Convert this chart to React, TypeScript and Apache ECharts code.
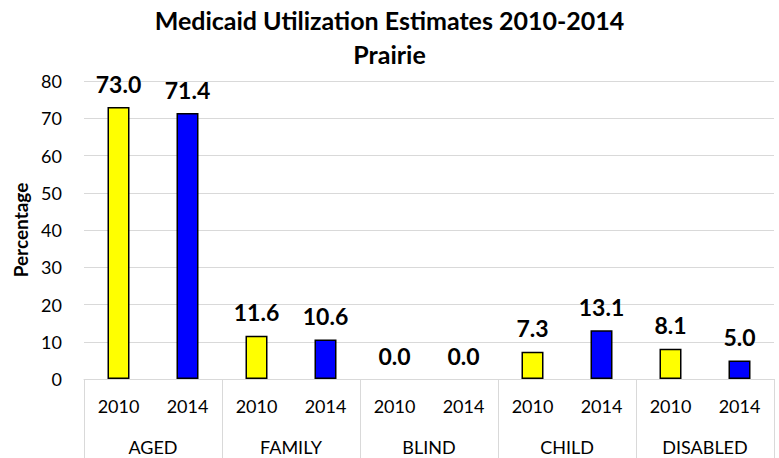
import React, { useEffect, useRef } from "react";
import * as echarts from "echarts";

const groups = ["AGED", "FAMILY", "BLIND", "CHILD", "DISABLED"];
const years = ["2010", "2014"];
const values2010 = [73.0, 11.6, 0.0, 7.3, 8.1];
const values2014 = [71.4, 10.6, 0.0, 13.1, 5.0];
const yTicks = { min: 0, max: 80, interval: 10 };

const FONT = "Lato";

export default function App() {
  const ref = useRef<HTMLDivElement>(null);
  useEffect(() => {
    document.body.style.margin = "0";
    if (!ref.current) return;
    const chart = echarts.init(ref.current, null, { renderer: "svg" });
    const cats: string[] = [];
    const d2010: any[] = [];
    const d2014: any[] = [];
    const item = (v: number) => ({
      value: v,
      itemStyle: v === 0 ? { borderWidth: 0 } : undefined,
    });
    groups.forEach((g, i) => {
      years.forEach((y, j) => {
        cats.push(y);
        d2010.push(j === 0 ? item(values2010[i]) : "-");
        d2014.push(j === 1 ? item(values2014[i]) : "-");
      });
    });
    const label = {
      show: true,
      position: "top" as const,
      distance: 12,
      color: "#000",
      fontFamily: FONT,
      fontWeight: "bold" as const,
      fontSize: 23,
      formatter: (p: any) => Number(p.value).toFixed(1),
    };
    chart.setOption({
      animation: false,
      title: [
        {
          text: "Medicaid Utilization Estimates 2010-2014",
          left: "center",
          top: 2,
          textStyle: { fontFamily: FONT, fontWeight: "bold", fontSize: 25, color: "#000" },
        },
        {
          text: "Prairie",
          left: "center",
          top: 36,
          textStyle: { fontFamily: FONT, fontWeight: "bold", fontSize: 25, color: "#000" },
        },
      ],
      grid: { left: 84, right: 5, top: 81, bottom: 79, containLabel: false },
      xAxis: [
        {
          type: "category",
          data: cats,
          position: "bottom",
          axisLine: { show: true, lineStyle: { color: "#d9d9d9", width: 1 } },
          axisTick: { show: false },
          axisLabel: { margin: 18, fontFamily: FONT, fontSize: 18, color: "#000" },
        },
        {
          type: "category",
          data: groups,
          position: "bottom",
          axisLine: { show: false },
          axisTick: { show: true, length: 80, lineStyle: { color: "#d9d9d9", width: 1 } },
          axisLabel: { margin: 59, fontFamily: FONT, fontSize: 18, color: "#000" },
        },
      ],
      yAxis: {
        type: "value",
        min: yTicks.min,
        max: yTicks.max,
        interval: yTicks.interval,
        name: "Percentage",
        nameLocation: "middle",
        nameGap: 46,
        nameTextStyle: { fontFamily: FONT, fontWeight: "bold", fontSize: 19, color: "#000" },
        axisLine: { show: false },
        axisTick: { show: false },
        axisLabel: { margin: 22, fontFamily: FONT, fontSize: 18, color: "#000" },
        splitLine: { lineStyle: { color: "#d9d9d9", width: 1 } },
      },
      series: [
        {
          name: "2010",
          type: "bar",
          data: d2010,
          barWidth: 22,
          barGap: "-100%",
          itemStyle: { color: "#ffff00", borderColor: "#000", borderWidth: 1.5 },
          label,
        },
        {
          name: "2014",
          type: "bar",
          data: d2014,
          barWidth: 22,
          barGap: "-100%",
          itemStyle: { color: "#0000ff", borderColor: "#000", borderWidth: 1.5 },
          label,
        },
      ],
    });
    return () => chart.dispose();
  }, []);
  return <div ref={ref} style={{ width: 779, height: 458 }} />;
}
